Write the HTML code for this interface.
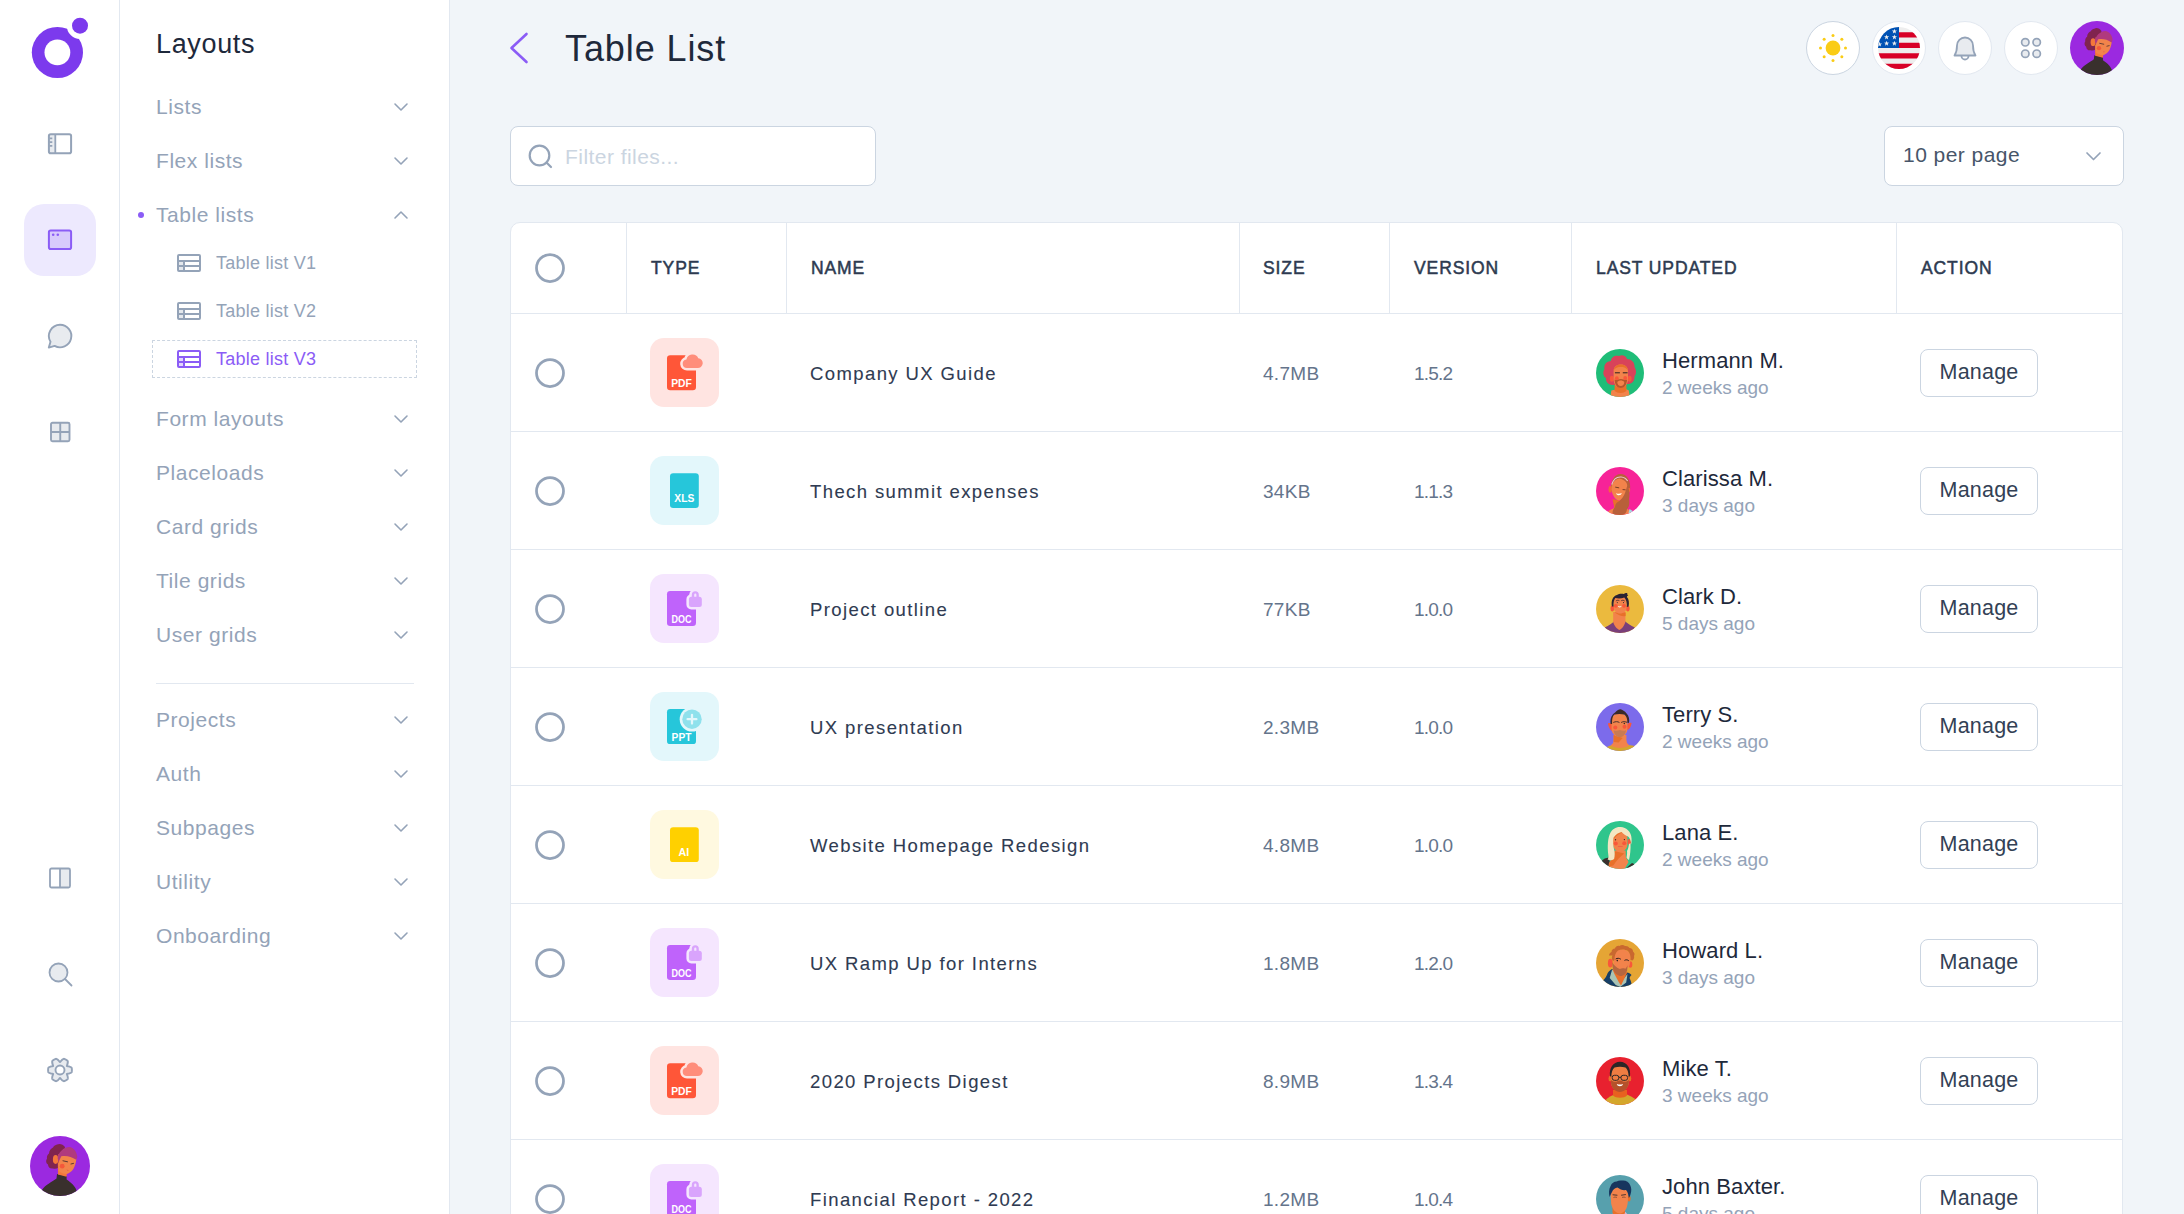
<!DOCTYPE html><html lang="en"><head><meta charset="utf-8"><title>Table List</title><style>
*{box-sizing:border-box;margin:0;padding:0}
html,body{width:2184px;height:1214px;overflow:hidden;background:#f1f5f9;font-family:"Liberation Sans",sans-serif;}
body{position:relative}
.abs{position:absolute}
#rail{position:absolute;left:0;top:0;width:120px;height:1214px;background:#fff;border-right:1px solid #e2e8f0}
#sub{position:absolute;left:120px;top:0;width:330px;height:1214px;background:#fff;border-right:1px solid #e2e8f0}
.t{position:absolute;white-space:nowrap;line-height:1}
.nav{color:#94a3b8;font-size:21px;letter-spacing:.55px}
.subnav{color:#94a3b8;font-size:18px;letter-spacing:.25px}
.chev{position:absolute;left:394px;width:14px;height:8px}
svg{display:block;overflow:visible}
.circ{position:absolute;width:54px;height:54px;border-radius:50%;background:#fff;border:1px solid #e2e8f0}
.row{position:absolute;left:0;width:1611px;height:118px;border-top:1px solid #e2e8f0}
.chk{position:absolute;left:24px;width:30px;height:30px}
.ibox{position:absolute;left:139px;top:24px;width:69px;height:69px;border-radius:14px}
.nm{color:#2f3b52;-webkit-text-stroke:.1px #2f3b52;font-size:18.5px;left:299px;top:51px;letter-spacing:1.4px}
.sz{color:#64748b;font-size:19px;top:50px;letter-spacing:.3px}
.un{color:#1e293b;font-size:22px;left:1151px;top:36px;letter-spacing:.1px}
.ut{color:#94a3b8;font-size:19px;left:1151px;top:64px}
.btn{position:absolute;left:1409px;top:35px;width:118px;height:48px;border:1px solid #cbd5e1;border-radius:8px;background:#fff;color:#334155;font-size:21.5px;letter-spacing:.2px;text-align:center;line-height:45px}
.av{position:absolute;left:1085px;top:35px;width:48px;height:48px;border-radius:50%;overflow:hidden}
.th{position:absolute;top:37px;color:#2d3a50;-webkit-text-stroke:.5px #2d3a50;font-size:17.5px;letter-spacing:.9px;white-space:nowrap;line-height:1}
.vs{position:absolute;top:0;width:1px;height:90px;background:#e2e8f0}
</style></head><body>
<div id="rail">
<svg class="abs" style="left:24px;top:12px" width="72" height="72" viewBox="0 0 72 72">
<defs><mask id="lm"><rect width="72" height="72" fill="#fff"/><circle cx="33.4" cy="40.4" r="12.9" fill="#000"/><circle cx="56" cy="13.7" r="13.2" fill="#000"/></mask></defs>
<circle cx="33.4" cy="40.5" r="25.6" fill="#7c3aed" mask="url(#lm)"/><circle cx="56" cy="13.7" r="8" fill="#7c3aed"/></svg>
<div class="abs" style="left:24px;top:204px;width:72px;height:72px;border-radius:20px;background:#ede9fe"></div>
<svg class="abs" style="left:48px;top:133px" width="24" height="22" viewBox="0 0 24 22"><rect x="1" y="1.300" width="6.300" height="18.900" fill="#94a3b8" opacity=".22"/><rect x="0.900" y="1.300" width="22.200" height="18.900" rx="1.800" fill="none" stroke="#94a3b8" stroke-width="2"/><path d="M7.300 1.300V20.200M1.500 5.400H4.300M1.500 9.100H4.300M1.500 12.800H4.300" stroke="#94a3b8" stroke-width="1.800" fill="none"/></svg>
<svg class="abs" style="left:48px;top:229px" width="24" height="22" viewBox="0 0 24 22"><rect x="0.900" y="1.500" width="22.200" height="18.500" rx="1.800" fill="#8b5cf6" fill-opacity=".22" stroke="#8b5cf6" stroke-width="2"/><circle cx="5.200" cy="5.800" r="1.300" fill="#8b5cf6"/><circle cx="9.800" cy="5.800" r="1.300" fill="#8b5cf6"/></svg>
<svg class="abs" style="left:47px;top:323px" width="26" height="26" viewBox="0 0 26 26"><path d="M13 1.700a11.300 11.300 0 1 1-5.400 21.200L1.800 24.600l1.700-5.800A11.300 11.300 0 0 1 13 1.700z" fill="#94a3b8" fill-opacity=".22" stroke="#94a3b8" stroke-width="1.900" stroke-linejoin="round"/></svg>
<svg class="abs" style="left:49px;top:421px" width="22" height="22" viewBox="0 0 22 22"><rect x="2" y="1.800" width="18.500" height="18.500" rx="1.500" fill="#94a3b8" fill-opacity=".22" stroke="#94a3b8" stroke-width="1.900"/><path d="M11.250 1.800V20.300M2 11.050H20.500" stroke="#94a3b8" stroke-width="1.900"/></svg>
<svg class="abs" style="left:49px;top:867px" width="22" height="22" viewBox="0 0 22 22"><rect x="11" y="1.5" width="10" height="19" fill="#94a3b8" opacity=".22"/><rect x="1" y="1.5" width="20" height="19" rx="1.5" fill="none" stroke="#94a3b8" stroke-width="1.8"/><path d="M11 1.5V20.5" stroke="#94a3b8" stroke-width="1.8"/></svg>
<svg class="abs" style="left:47px;top:961px" width="26" height="26" viewBox="0 0 26 26"><circle cx="11.5" cy="11.5" r="9" fill="#94a3b8" fill-opacity=".22" stroke="#94a3b8" stroke-width="1.8"/><path d="M18 18L24.5 24.5" stroke="#94a3b8" stroke-width="1.8" stroke-linecap="round"/></svg>
<svg class="abs" style="left:46px;top:1056px" width="28" height="28" viewBox="0 0 28 28"><polygon points="14.00,6.10 14.14,5.98 14.29,5.81 14.44,5.62 14.60,5.42 14.77,5.22 14.94,5.01 15.13,4.80 15.32,4.59 15.52,4.39 15.73,4.19 15.95,3.99 16.17,3.80 16.40,3.62 16.63,3.46 16.87,3.30 17.11,3.16 17.35,3.03 17.60,2.92 17.85,2.82 18.07,2.82 18.26,2.89 18.46,2.97 18.65,3.05 18.84,3.13 19.03,3.21 19.22,3.30 19.40,3.40 19.59,3.49 19.77,3.59 19.95,3.69 20.13,3.80 20.31,3.91 20.48,4.02 20.65,4.13 20.83,4.25 20.99,4.37 21.16,4.50 21.33,4.62 21.49,4.75 21.65,4.88 21.76,5.08 21.80,5.34 21.82,5.61 21.83,5.89 21.83,6.17 21.82,6.45 21.79,6.74 21.75,7.02 21.70,7.31 21.63,7.59 21.56,7.87 21.49,8.15 21.40,8.42 21.31,8.69 21.22,8.94 21.13,9.19 21.04,9.43 20.95,9.66 20.88,9.87 20.84,10.05 21.02,10.11 21.24,10.15 21.47,10.19 21.73,10.23 21.99,10.28 22.26,10.32 22.53,10.38 22.81,10.44 23.09,10.51 23.37,10.59 23.64,10.68 23.91,10.78 24.18,10.89 24.44,11.01 24.70,11.13 24.94,11.27 25.18,11.42 25.40,11.58 25.61,11.74 25.72,11.93 25.75,12.14 25.78,12.34 25.81,12.55 25.83,12.76 25.85,12.96 25.87,13.17 25.88,13.38 25.89,13.58 25.90,13.79 25.90,14.00 25.90,14.21 25.89,14.42 25.88,14.62 25.87,14.83 25.85,15.04 25.83,15.24 25.81,15.45 25.78,15.66 25.75,15.86 25.72,16.07 25.61,16.26 25.40,16.42 25.18,16.58 24.94,16.73 24.70,16.87 24.44,16.99 24.18,17.11 23.91,17.22 23.64,17.32 23.37,17.41 23.09,17.49 22.81,17.56 22.53,17.62 22.26,17.68 21.99,17.72 21.73,17.77 21.47,17.81 21.24,17.85 21.02,17.89 20.84,17.95 20.88,18.13 20.95,18.34 21.04,18.57 21.13,18.81 21.22,19.06 21.31,19.31 21.40,19.58 21.49,19.85 21.56,20.13 21.63,20.41 21.70,20.69 21.75,20.98 21.79,21.26 21.82,21.55 21.83,21.83 21.83,22.11 21.82,22.39 21.80,22.66 21.76,22.92 21.65,23.12 21.49,23.25 21.33,23.38 21.16,23.50 20.99,23.63 20.83,23.75 20.65,23.87 20.48,23.98 20.31,24.09 20.13,24.20 19.95,24.31 19.77,24.41 19.59,24.51 19.40,24.60 19.22,24.70 19.03,24.79 18.84,24.87 18.65,24.95 18.46,25.03 18.26,25.11 18.07,25.18 17.85,25.18 17.60,25.08 17.35,24.97 17.11,24.84 16.87,24.70 16.63,24.54 16.40,24.38 16.17,24.20 15.95,24.01 15.73,23.81 15.52,23.61 15.32,23.41 15.13,23.20 14.94,22.99 14.77,22.78 14.60,22.58 14.44,22.38 14.29,22.19 14.14,22.02 14.00,21.90 13.86,22.02 13.71,22.19 13.56,22.38 13.40,22.58 13.23,22.78 13.06,22.99 12.87,23.20 12.68,23.41 12.48,23.61 12.27,23.81 12.05,24.01 11.83,24.20 11.60,24.38 11.37,24.54 11.13,24.70 10.89,24.84 10.65,24.97 10.40,25.08 10.15,25.18 9.93,25.18 9.74,25.11 9.54,25.03 9.35,24.95 9.16,24.87 8.97,24.79 8.78,24.70 8.60,24.60 8.41,24.51 8.23,24.41 8.05,24.31 7.87,24.20 7.69,24.09 7.52,23.98 7.35,23.87 7.17,23.75 7.01,23.63 6.84,23.50 6.67,23.38 6.51,23.25 6.35,23.12 6.24,22.92 6.20,22.66 6.18,22.39 6.17,22.11 6.17,21.83 6.18,21.55 6.21,21.26 6.25,20.98 6.30,20.69 6.37,20.41 6.44,20.13 6.51,19.85 6.60,19.58 6.69,19.31 6.78,19.06 6.87,18.81 6.96,18.57 7.05,18.34 7.12,18.13 7.16,17.95 6.98,17.89 6.76,17.85 6.53,17.81 6.27,17.77 6.01,17.72 5.74,17.68 5.47,17.62 5.19,17.56 4.91,17.49 4.63,17.41 4.36,17.32 4.09,17.22 3.82,17.11 3.56,16.99 3.30,16.87 3.06,16.73 2.82,16.58 2.60,16.42 2.39,16.26 2.28,16.07 2.25,15.86 2.22,15.66 2.19,15.45 2.17,15.24 2.15,15.04 2.13,14.83 2.12,14.62 2.11,14.42 2.10,14.21 2.10,14.00 2.10,13.79 2.11,13.58 2.12,13.38 2.13,13.17 2.15,12.96 2.17,12.76 2.19,12.55 2.22,12.34 2.25,12.14 2.28,11.93 2.39,11.74 2.60,11.58 2.82,11.42 3.06,11.27 3.30,11.13 3.56,11.01 3.82,10.89 4.09,10.78 4.36,10.68 4.63,10.59 4.91,10.51 5.19,10.44 5.47,10.38 5.74,10.32 6.01,10.28 6.27,10.23 6.53,10.19 6.76,10.15 6.98,10.11 7.16,10.05 7.12,9.87 7.05,9.66 6.96,9.43 6.87,9.19 6.78,8.94 6.69,8.69 6.60,8.42 6.51,8.15 6.44,7.87 6.37,7.59 6.30,7.31 6.25,7.02 6.21,6.74 6.18,6.45 6.17,6.17 6.17,5.89 6.18,5.61 6.20,5.34 6.24,5.08 6.35,4.88 6.51,4.75 6.67,4.62 6.84,4.50 7.01,4.37 7.17,4.25 7.35,4.13 7.52,4.02 7.69,3.91 7.87,3.80 8.05,3.69 8.23,3.59 8.41,3.49 8.60,3.40 8.78,3.30 8.97,3.21 9.16,3.13 9.35,3.05 9.54,2.97 9.74,2.89 9.93,2.82 10.15,2.82 10.40,2.92 10.65,3.03 10.89,3.16 11.13,3.30 11.37,3.46 11.60,3.62 11.83,3.80 12.05,3.99 12.27,4.19 12.48,4.39 12.68,4.59 12.87,4.80 13.06,5.01 13.23,5.22 13.40,5.42 13.56,5.62 13.71,5.81 13.86,5.98" fill="#94a3b8" fill-opacity=".22" stroke="#94a3b8" stroke-width="1.9" stroke-linejoin="round"/><circle cx="14" cy="14" r="4.500" fill="#fff" stroke="#94a3b8" stroke-width="1.9"/></svg>
<div class="abs" id="me1" style="left:30px;top:1136px;width:60px;height:60px;border-radius:50%;overflow:hidden"><svg width="100%" height="100%" viewBox="0 0 60 60"><rect width="60" height="60" fill="#9b29e0"/><path d="M27 8.500c3-1.500 6 0 8 2.500l-3 18c-3 3-6 4.500-9 3.500-3 .5-5-1.500-5-4-2-1-2.500-4-1-6-.5-2 .5-4 2-5 0-3 2-5 4-6 1-2 2.500-2.500 4-3z" fill="#80244f"/><path d="M12 54c3-5 10-8 14.500-11.500l.5-4.500 9.600 2v3.500c4 2.500 8.500 6.500 10 11l-3 5.500H14z" fill="#39302d"/><path d="M27.800 26l.2 12.600 8.600 2.100.4-5z" fill="#f4773a"/><path d="M28.500 18l17.800 2.500v3c-.5 4-1.500 7-3 9.500-1.500 2.500-4 4-6.500 5-3.500 0-6.500-1.500-8.300-3z" fill="#f2844b"/><ellipse cx="25.600" cy="23.500" rx="2.700" ry="4.400" fill="#f4773a"/><path d="M27.600 22c1-6 6-10.500 11.500-11 4.500.5 8 5 8.200 10l-1 2.800c-5-3.500-10-4.500-15-3.600l-2.700 5.800z" fill="#b03a7e"/><circle cx="32.200" cy="30.200" r="2.400" fill="#f4583a"/><path d="M33 24.800l4.500 1M41 28l2.500-.6" stroke="#4a3030" stroke-width=".9" stroke-linecap="round" fill="none"/><path d="M36.500 33.600l2.500.6-1.500.9z" fill="#e8604a"/></svg></div>
</div>
<div id="sub">
<div class="t" style="left:36px;top:31px;font-size:27px;letter-spacing:.65px;color:#1e293b">Layouts</div>
<div class="t nav" style="left:36px;top:96px">Lists</div>
<svg class="chev" style="left:274px;top:103px" viewBox="0 0 14 8"><path d="M1 1 L7 7 L13 1" fill="none" stroke="#94a3b8" stroke-width="1.6" stroke-linecap="round" stroke-linejoin="round"/></svg>
<div class="t nav" style="left:36px;top:150px">Flex lists</div>
<svg class="chev" style="left:274px;top:157px" viewBox="0 0 14 8"><path d="M1 1 L7 7 L13 1" fill="none" stroke="#94a3b8" stroke-width="1.6" stroke-linecap="round" stroke-linejoin="round"/></svg>
<div class="t nav" style="left:36px;top:204px">Table lists</div>
<svg class="chev" style="left:274px;top:211px" viewBox="0 0 14 8"><path d="M1 7 L7 1 L13 7" fill="none" stroke="#94a3b8" stroke-width="1.6" stroke-linecap="round" stroke-linejoin="round"/></svg>
<div class="t nav" style="left:36px;top:408px">Form layouts</div>
<svg class="chev" style="left:274px;top:415px" viewBox="0 0 14 8"><path d="M1 1 L7 7 L13 1" fill="none" stroke="#94a3b8" stroke-width="1.6" stroke-linecap="round" stroke-linejoin="round"/></svg>
<div class="t nav" style="left:36px;top:462px">Placeloads</div>
<svg class="chev" style="left:274px;top:469px" viewBox="0 0 14 8"><path d="M1 1 L7 7 L13 1" fill="none" stroke="#94a3b8" stroke-width="1.6" stroke-linecap="round" stroke-linejoin="round"/></svg>
<div class="t nav" style="left:36px;top:516px">Card grids</div>
<svg class="chev" style="left:274px;top:523px" viewBox="0 0 14 8"><path d="M1 1 L7 7 L13 1" fill="none" stroke="#94a3b8" stroke-width="1.6" stroke-linecap="round" stroke-linejoin="round"/></svg>
<div class="t nav" style="left:36px;top:570px">Tile grids</div>
<svg class="chev" style="left:274px;top:577px" viewBox="0 0 14 8"><path d="M1 1 L7 7 L13 1" fill="none" stroke="#94a3b8" stroke-width="1.6" stroke-linecap="round" stroke-linejoin="round"/></svg>
<div class="t nav" style="left:36px;top:624px">User grids</div>
<svg class="chev" style="left:274px;top:631px" viewBox="0 0 14 8"><path d="M1 1 L7 7 L13 1" fill="none" stroke="#94a3b8" stroke-width="1.6" stroke-linecap="round" stroke-linejoin="round"/></svg>
<div class="t nav" style="left:36px;top:709px">Projects</div>
<svg class="chev" style="left:274px;top:716px" viewBox="0 0 14 8"><path d="M1 1 L7 7 L13 1" fill="none" stroke="#94a3b8" stroke-width="1.6" stroke-linecap="round" stroke-linejoin="round"/></svg>
<div class="t nav" style="left:36px;top:763px">Auth</div>
<svg class="chev" style="left:274px;top:770px" viewBox="0 0 14 8"><path d="M1 1 L7 7 L13 1" fill="none" stroke="#94a3b8" stroke-width="1.6" stroke-linecap="round" stroke-linejoin="round"/></svg>
<div class="t nav" style="left:36px;top:817px">Subpages</div>
<svg class="chev" style="left:274px;top:824px" viewBox="0 0 14 8"><path d="M1 1 L7 7 L13 1" fill="none" stroke="#94a3b8" stroke-width="1.6" stroke-linecap="round" stroke-linejoin="round"/></svg>
<div class="t nav" style="left:36px;top:871px">Utility</div>
<svg class="chev" style="left:274px;top:878px" viewBox="0 0 14 8"><path d="M1 1 L7 7 L13 1" fill="none" stroke="#94a3b8" stroke-width="1.6" stroke-linecap="round" stroke-linejoin="round"/></svg>
<div class="t nav" style="left:36px;top:925px">Onboarding</div>
<svg class="chev" style="left:274px;top:932px" viewBox="0 0 14 8"><path d="M1 1 L7 7 L13 1" fill="none" stroke="#94a3b8" stroke-width="1.6" stroke-linecap="round" stroke-linejoin="round"/></svg>
<div class="abs" style="left:18px;top:212px;width:6px;height:6px;border-radius:50%;background:#8b5cf6"></div>
<svg class="abs" style="left:57px;top:254px" width="24" height="18" viewBox="0 0 24 18"><rect x="1" y="7" width="6" height="10" fill="#94a3b8" opacity=".25"/><rect x="1" y="1" width="22" height="16" rx="1" fill="none" stroke="#94a3b8" stroke-width="2"/><path d="M1 7H23M1 12H23M7 7V17" stroke="#94a3b8" stroke-width="2" fill="none"/></svg>
<div class="t subnav" style="left:96px;top:254px;color:#94a3b8">Table list V1</div>
<svg class="abs" style="left:57px;top:302px" width="24" height="18" viewBox="0 0 24 18"><rect x="1" y="7" width="6" height="10" fill="#94a3b8" opacity=".25"/><rect x="1" y="1" width="22" height="16" rx="1" fill="none" stroke="#94a3b8" stroke-width="2"/><path d="M1 7H23M1 12H23M7 7V17" stroke="#94a3b8" stroke-width="2" fill="none"/></svg>
<div class="t subnav" style="left:96px;top:302px;color:#94a3b8">Table list V2</div>
<div class="abs" style="left:32px;top:340px;width:265px;height:38px;border:1px dashed #cbd5e1;border-radius:1px"></div>
<svg class="abs" style="left:57px;top:350px" width="24" height="18" viewBox="0 0 24 18"><rect x="1" y="7" width="6" height="10" fill="#8b5cf6" opacity=".25"/><rect x="1" y="1" width="22" height="16" rx="1" fill="none" stroke="#8b5cf6" stroke-width="2"/><path d="M1 7H23M1 12H23M7 7V17" stroke="#8b5cf6" stroke-width="2" fill="none"/></svg>
<div class="t subnav" style="left:96px;top:350px;color:#8b5cf6">Table list V3</div>
<div class="abs" style="left:36px;top:683px;width:258px;height:1px;background:#e2e8f0"></div>
</div>
<svg class="abs" style="left:509px;top:32px" width="20" height="32" viewBox="0 0 20 32"><path d="M17.500 2L2.500 16L17.500 30" fill="none" stroke="#8b5cf6" stroke-width="2.6" stroke-linecap="round" stroke-linejoin="round"/></svg>
<div class="t" style="left:565px;top:31px;font-size:36px;letter-spacing:.9px;color:#1e293b">Table List</div>
<div class="circ" style="left:1806px;top:21px;border-color:#cbd5e1"></div>
<div class="circ" style="left:1872px;top:21px;border-color:#e2e8f0"></div>
<div class="circ" style="left:1938px;top:21px;border-color:#e2e8f0"></div>
<div class="circ" style="left:2004px;top:21px;border-color:#e2e8f0"></div>
<svg class="abs" style="left:1813px;top:28px" width="40" height="40" viewBox="0 0 40 40" fill="#facc15"><circle cx="20" cy="20" r="7.400"/><circle cx="32.50" cy="20.00" r="1.500"/><circle cx="28.84" cy="28.84" r="1.500"/><circle cx="20.00" cy="32.50" r="1.500"/><circle cx="11.16" cy="28.84" r="1.500"/><circle cx="7.50" cy="20.00" r="1.500"/><circle cx="11.16" cy="11.16" r="1.500"/><circle cx="20.00" cy="7.50" r="1.500"/><circle cx="28.84" cy="11.16" r="1.500"/></svg>
<svg class="abs" style="left:1878px;top:27px" width="42" height="42" viewBox="0 0 42 42"><defs><clipPath id="fc"><circle cx="21" cy="21" r="21"/></clipPath></defs><g clip-path="url(#fc)"><rect width="42" height="42" fill="#eeeeee"/><g fill="#d80027"><rect x="21" y="5.250" width="21" height="5.250"/><rect x="21" y="15.750" width="21" height="5.250"/><rect x="0" y="26.250" width="42" height="5.250"/><rect x="0" y="36.750" width="42" height="5.250"/></g><rect width="21" height="21" fill="#0052b4"/><g fill="#eee"><polygon points="16.40,1.70 17.05,3.51 18.97,3.57 17.45,4.74 17.99,6.58 16.40,5.50 14.81,6.58 15.35,4.74 13.83,3.57 15.75,3.51"/><polygon points="8.60,7.50 9.25,9.31 11.17,9.37 9.65,10.54 10.19,12.38 8.60,11.30 7.01,12.38 7.55,10.54 6.03,9.37 7.95,9.31"/><polygon points="16.40,7.50 17.05,9.31 18.97,9.37 17.45,10.54 17.99,12.38 16.40,11.30 14.81,12.38 15.35,10.54 13.83,9.37 15.75,9.31"/><polygon points="8.60,13.80 9.25,15.61 11.17,15.67 9.65,16.84 10.19,18.68 8.60,17.60 7.01,18.68 7.55,16.84 6.03,15.67 7.95,15.61"/><polygon points="16.40,13.80 17.05,15.61 18.97,15.67 17.45,16.84 17.99,18.68 16.40,17.60 14.81,18.68 15.35,16.84 13.83,15.67 15.75,15.61"/><polygon points="1.50,14.60 2.15,16.41 4.07,16.47 2.55,17.64 3.09,19.48 1.50,18.40 -0.09,19.48 0.45,17.64 -1.07,16.47 0.85,16.41"/></g></g></svg>
<svg class="abs" style="left:1952px;top:34px" width="26" height="28" viewBox="0 0 26 28"><path d="M2.500 21.500c2-3 2.500-6 2.500-10a8 8 0 0 1 16 0c0 4 .5 7 2.500 10z" fill="#94a3b8" fill-opacity=".22" stroke="#94a3b8" stroke-width="1.800" stroke-linejoin="round"/><path d="M9.500 22a3.500 3.500 0 0 0 7 0" fill="none" stroke="#94a3b8" stroke-width="1.800"/></svg>
<svg class="abs" style="left:2019px;top:36px" width="24" height="24" viewBox="0 0 24 24" fill="#94a3b8" fill-opacity=".22" stroke="#94a3b8" stroke-width="1.700"><circle cx="6.300" cy="6.300" r="3.700"/><circle cx="17.700" cy="6.300" r="3.700"/><circle cx="6.300" cy="17.700" r="3.700"/><circle cx="17.700" cy="17.700" r="3.700"/></svg>
<div class="abs" id="me2" style="left:2070px;top:21px;width:54px;height:54px;border-radius:50%;overflow:hidden"><svg width="100%" height="100%" viewBox="0 0 60 60"><rect width="60" height="60" fill="#9b29e0"/><path d="M27 8.500c3-1.500 6 0 8 2.500l-3 18c-3 3-6 4.500-9 3.500-3 .5-5-1.500-5-4-2-1-2.500-4-1-6-.5-2 .5-4 2-5 0-3 2-5 4-6 1-2 2.500-2.500 4-3z" fill="#80244f"/><path d="M12 54c3-5 10-8 14.500-11.500l.5-4.500 9.600 2v3.500c4 2.500 8.500 6.500 10 11l-3 5.500H14z" fill="#39302d"/><path d="M27.800 26l.2 12.600 8.600 2.100.4-5z" fill="#f4773a"/><path d="M28.500 18l17.800 2.500v3c-.5 4-1.500 7-3 9.500-1.500 2.500-4 4-6.500 5-3.500 0-6.500-1.500-8.300-3z" fill="#f2844b"/><ellipse cx="25.600" cy="23.500" rx="2.700" ry="4.400" fill="#f4773a"/><path d="M27.600 22c1-6 6-10.500 11.500-11 4.500.5 8 5 8.200 10l-1 2.800c-5-3.500-10-4.500-15-3.600l-2.700 5.800z" fill="#b03a7e"/><circle cx="32.200" cy="30.200" r="2.400" fill="#f4583a"/><path d="M33 24.800l4.500 1M41 28l2.500-.6" stroke="#4a3030" stroke-width=".9" stroke-linecap="round" fill="none"/><path d="M36.500 33.600l2.500.6-1.500.9z" fill="#e8604a"/></svg></div>
<div class="abs" style="left:510px;top:126px;width:366px;height:60px;background:#fff;border:1px solid #cbd5e1;border-radius:8px"></div>
<svg class="abs" style="left:527px;top:143px" width="26" height="26" viewBox="0 0 26 26"><circle cx="12.500" cy="12.500" r="9.800" fill="none" stroke="#94a3b8" stroke-width="2.2"/><path d="M19.500 19.500L24 24" stroke="#94a3b8" stroke-width="2.2" stroke-linecap="round"/></svg>
<div class="t" style="left:565px;top:146px;font-size:21px;letter-spacing:.45px;color:#cbd5e1">Filter files...</div>
<div class="abs" style="left:1884px;top:126px;width:240px;height:60px;background:#fff;border:1px solid #cbd5e1;border-radius:8px"></div>
<div class="t" style="left:1903px;top:144px;font-size:21px;letter-spacing:.45px;color:#475569">10 per page</div>
<svg class="abs" style="left:2086px;top:152px" width="15" height="9" viewBox="0 0 15 9"><path d="M1 1L7.500 7.500L14 1" fill="none" stroke="#94a3b8" stroke-width="1.700" stroke-linecap="round" stroke-linejoin="round"/></svg>
<div class="abs" style="left:510px;top:222px;width:1613px;height:1000px;background:#fff;border:1px solid #e2e8f0;border-radius:10px 10px 0 0;overflow:hidden">
<svg class="chk" style="top:30px" viewBox="0 0 30 30"><circle cx="15" cy="15" r="13.500" fill="#fff" stroke="#94a3b8" stroke-width="2.750"/></svg>
<div class="vs" style="left:115px"></div>
<div class="vs" style="left:275px"></div>
<div class="vs" style="left:728px"></div>
<div class="vs" style="left:878px"></div>
<div class="vs" style="left:1060px"></div>
<div class="vs" style="left:1385px"></div>
<div class="th" style="left:140px">TYPE</div>
<div class="th" style="left:300px">NAME</div>
<div class="th" style="left:752px">SIZE</div>
<div class="th" style="left:903px">VERSION</div>
<div class="th" style="left:1085px">LAST UPDATED</div>
<div class="th" style="left:1410px">ACTION</div>
<div class="row" style="top:90px">
<svg class="chk" style="top:44px" viewBox="0 0 30 30"><circle cx="15" cy="15" r="13.500" fill="#fff" stroke="#94a3b8" stroke-width="2.750"/></svg>
<div class="ibox" style="background:#ffe4e1"><svg width="69" height="69" viewBox="0 0 69 69"><rect x="17" y="17.3" width="29" height="35" rx="3.2" fill="#ff5638"/><path d="M37 30a4.300 4.300 0 0 1-.6-8.560 6.300 6.300 0 0 1 11.900-1.300A4.800 4.800 0 0 1 47.300 30z" fill="#ff8d7b" stroke="#ffe4e1" stroke-width="5" paint-order="stroke" stroke-linejoin="round"/><text x="21.2" y="48.6" font-family="Liberation Sans, sans-serif" font-weight="bold" font-size="11.5" textLength="20.6" lengthAdjust="spacingAndGlyphs" fill="#fff">PDF</text></svg></div>
<div class="t nm">Company UX Guide</div>
<div class="t sz" style="left:752px">4.7MB</div>
<div class="t sz" style="left:903px;letter-spacing:-.8px">1.5.2</div>
<div class="av"><svg width="100%" height="100%" viewBox="0 0 48 48"><rect width="48" height="48" fill="#1fbd78"/><path d="M15 12c0-4 4-6 8-5 3-1.500 7-.5 8 3 4 0 8 3 7.500 8 2 3 2 7 0 9 .5 4-2 8-6 8l-16 1c-4 0-7-3-6.500-7-3-2-3.500-6-1.500-9-1-4 2-8 6.500-8z" fill="#d8435a"/><path d="M15.300 41.600c3-.5 5-1 6-2h8c1 1 3 1.500 3.500 2l1 6.400H14.500z" fill="#f2834b"/><path d="M18.600 36h11.800v6c-3 2.500-9 2.500-11.800 0z" fill="#e8702a"/><ellipse cx="15.800" cy="29.700" rx="2" ry="3" fill="#f9573a"/><ellipse cx="33.600" cy="29.700" rx="2" ry="3" fill="#f9573a"/><path d="M17.600 22c0-4 3-6.500 7.200-6.500S32 18 32 22v8c0 5-3 9-7.200 9s-7.200-4-7.200-9z" fill="#f2834b"/><path d="M17.800 21c.5-3.500 3.500-5.500 7-5.500s6.500 2 7 5.500c-2-2.500-4.500-3-7-3s-5 .5-7 3z" fill="#e8702a"/><path d="M18.500 30.500c1.500.5 3.500 0 6.300-.6 2.800.6 4.800 1.100 6.300.6-.3 5-2.800 8.500-6.300 8.500s-6-3.500-6.300-8.500zm2.800 2.500c0 2.500 1.500 4 3.500 4s3.500-1.500 3.500-4c-1-1-2.200-1.500-3.500-1.500s-2.500.5-3.500 1.500z" fill="#b5562b" fill-rule="evenodd"/><circle cx="20.8" cy="29.2" r="1.9" fill="#f9573a"/><circle cx="29.2" cy="29" r="1.9" fill="#f9573a"/><path d="M19.300 23.800h4.200M27.200 23.800h4" stroke="#2b2020" stroke-width="1" stroke-linecap="round"/></svg></div>
<div class="t un">Hermann M.</div>
<div class="t ut">2 weeks ago</div>
<div class="btn">Manage</div>
</div>
<div class="row" style="top:208px">
<svg class="chk" style="top:44px" viewBox="0 0 30 30"><circle cx="15" cy="15" r="13.500" fill="#fff" stroke="#94a3b8" stroke-width="2.750"/></svg>
<div class="ibox" style="background:#e3f7fb"><svg width="69" height="69" viewBox="0 0 69 69"><rect x="20" y="17.2" width="28.8" height="34.8" rx="3.2" fill="#26c6da"/><text x="24.3" y="46.1" font-family="Liberation Sans, sans-serif" font-weight="bold" font-size="11.5" textLength="20" lengthAdjust="spacingAndGlyphs" fill="#fff">XLS</text></svg></div>
<div class="t nm">Thech summit expenses</div>
<div class="t sz" style="left:752px">34KB</div>
<div class="t sz" style="left:903px;letter-spacing:-.8px">1.1.3</div>
<div class="av"><svg width="100%" height="100%" viewBox="0 0 48 48"><rect width="48" height="48" fill="#f72398"/><path d="M15 24c-1-9 3-17 9.500-17 7 0 10.500 7 9.500 16l-3 8z" fill="#b8603a"/><path d="M11 48c.5-4 3-5.500 6.500-6.500l2-4 8 1 1.500 3c3 .5 6 2 6.500 6.500z" fill="#f2834b"/><path d="M33.500 42l3.300 2-1.300 3-3-1z" fill="#a9d4e0"/><path d="M16.500 32l8 2v7l-6 .5z" fill="#e8702a"/><ellipse cx="14.200" cy="22.300" rx="1.700" ry="3.400" fill="#f4683a"/><ellipse cx="33" cy="23" rx="1.200" ry="2.200" fill="#f4683a"/><path d="M15.600 17c1-4 4.500-6.500 8.500-6 4.500.5 7.500 4.500 7.300 9.500-.2 6-3.500 11.500-8 13-4-.5-7-5-7.800-10.500z" fill="#f2834b"/><path d="M15.400 19c.5-6 4-9.500 9-9.500 4 0 7.500 3 8 8.500-2.500-4-5.500-6-9-6.500-3.500.5-6.500 3-8 7.500z" fill="#b8603a"/><path d="M15.800 17.500c1.500-5 5-8 9.500-7.500 3 .3 5 2 6.300 4" fill="none" stroke="#edc1d3" stroke-width="1.100"/><path d="M20 26.200c2 .8 4 .8 5.700-.1-.4 2.800-4.800 3-5.700.1z" fill="#fff"/><path d="M31.500 18c2 5 2.500 10 1.500 14 1 4 0 8-2 10 0 3-2 5-4 6h-10c-1-3 0-6 2-8 0-3 2-5 4.500-6 2-2 4.500-5 5.500-8z" fill="#b8603a"/><path d="M19.600 20.200l3.200.6M27 22.600l2.200.2" stroke="#6a3520" stroke-width=".9" stroke-linecap="round"/></svg></div>
<div class="t un">Clarissa M.</div>
<div class="t ut">3 days ago</div>
<div class="btn">Manage</div>
</div>
<div class="row" style="top:326px">
<svg class="chk" style="top:44px" viewBox="0 0 30 30"><circle cx="15" cy="15" r="13.500" fill="#fff" stroke="#94a3b8" stroke-width="2.750"/></svg>
<div class="ibox" style="background:#f5e6fe"><svg width="69" height="69" viewBox="0 0 69 69"><rect x="17" y="17" width="29" height="35" rx="3.2" fill="#bf63fb"/><g stroke="#f5e6fe" stroke-width="5" stroke-linejoin="round"><path d="M41.400 22.700h7.900a2.500 2.500 0 0 1 2.500 2.500v5.300a2.500 2.500 0 0 1-2.500 2.500h-7.900a2.500 2.500 0 0 1-2.500-2.500v-5.300a2.500 2.500 0 0 1 2.500-2.500z" fill="#f5e6fe"/><path d="M43 23v-2.300a2.300 2.300 0 0 1 4.600 0V23" fill="none" stroke-width="7.400"/></g><path d="M41.400 22.700h7.900a2.500 2.500 0 0 1 2.500 2.500v5.300a2.500 2.500 0 0 1-2.500 2.500h-7.900a2.500 2.500 0 0 1-2.500-2.500v-5.300a2.500 2.500 0 0 1 2.500-2.500z" fill="#d9a4fc"/><path d="M43 23v-2.300a2.300 2.300 0 0 1 4.600 0V23" fill="none" stroke="#d9a4fc" stroke-width="2.400"/><text x="21.6" y="48.6" font-family="Liberation Sans, sans-serif" font-weight="bold" font-size="11.5" textLength="20" lengthAdjust="spacingAndGlyphs" fill="#fff">DOC</text></svg></div>
<div class="t nm">Project outline</div>
<div class="t sz" style="left:752px">77KB</div>
<div class="t sz" style="left:903px;letter-spacing:-.8px">1.0.0</div>
<div class="av"><svg width="100%" height="100%" viewBox="0 0 48 48"><rect width="48" height="48" fill="#ebba3e"/><path d="M8.700 42.500c4-2 8-4.500 10-6.500h10c2 2 6 4.500 10.200 6.500L36 48H12z" fill="#7a3f7a"/><path d="M17.200 27h12.200v10c-1 3.500-3.500 7-6 8-2.500-1-5.500-4.500-6.200-8z" fill="#f2834b"/><path d="M18.600 27.500h11v3.500c-3 .8-7-.5-11-3.500z" fill="#e8702a"/><ellipse cx="16.300" cy="23.500" rx="1.800" ry="2.900" fill="#f9573a"/><ellipse cx="31.800" cy="23.500" rx="1.800" ry="2.900" fill="#f9573a"/><path d="M17.800 16c0-3.500 3-5.500 6.400-5.500s6.300 2 6.300 5.500v7c0 3-3 5.500-6.300 5.500s-6.400-2.500-6.400-5.500z" fill="#f2834b"/><path d="M15.900 21.500c-1-6 1-10.500 5-11.500 2-1.500 5-1.500 7-1 1-1 2.500-1.200 3.500-.6-.3 1 .2 1.800 1 2.200-1 .3-1.500.8-1.500 1.500 2 2 2.500 6 1.700 9.400l-1.800.5c.3-4-.5-7.500-2.500-9.500-2.500 1-6 1.200-9 .5-1.500 2-2 5-1.700 8.500z" fill="#2b2233"/><circle cx="19.8" cy="20.8" r="1.9" fill="#f9573a"/><circle cx="28" cy="20.8" r="1.9" fill="#f9573a"/><path d="M21.800 21c1.200.5 2.600.5 3.800 0-.3 1.900-3.400 1.900-3.800 0z" fill="#fff"/><path d="M20.200 15.800c.8-.6 1.800-.7 2.800-.3M25.600 15.500c1-.4 2-.3 2.800.3" stroke="#3a2530" stroke-width=".8" stroke-linecap="round" fill="none"/><circle cx="21.300" cy="17.600" r=".55" fill="#3a2530"/><circle cx="27.500" cy="17.600" r=".55" fill="#3a2530"/></svg></div>
<div class="t un">Clark D.</div>
<div class="t ut">5 days ago</div>
<div class="btn">Manage</div>
</div>
<div class="row" style="top:444px">
<svg class="chk" style="top:44px" viewBox="0 0 30 30"><circle cx="15" cy="15" r="13.500" fill="#fff" stroke="#94a3b8" stroke-width="2.750"/></svg>
<div class="ibox" style="background:#e3f7fb"><svg width="69" height="69" viewBox="0 0 69 69"><rect x="17" y="17.1" width="29" height="35" rx="3.2" fill="#26c6da"/><circle cx="42" cy="27.200" r="12.300" fill="#e3f7fb"/><circle cx="42" cy="27.200" r="9.700" fill="#8fe1ec"/><path d="M42 22.800v8.800M37.600 27.200h8.800" stroke="#e3f7fb" stroke-width="2.300" stroke-linecap="round"/><text x="21.6" y="48.8" font-family="Liberation Sans, sans-serif" font-weight="bold" font-size="11.5" textLength="19.8" lengthAdjust="spacingAndGlyphs" fill="#fff">PPT</text></svg></div>
<div class="t nm">UX presentation</div>
<div class="t sz" style="left:752px">2.3MB</div>
<div class="t sz" style="left:903px;letter-spacing:-.8px">1.0.0</div>
<div class="av"><svg width="100%" height="100%" viewBox="0 0 48 48"><rect width="48" height="48" fill="#7c6beb"/><path d="M10.800 44c4-2 8-2.500 12.500-2.500s9 .5 15.700 1.500L36 48H12z" fill="#d4a72c"/><path d="M14.600 42.500c2-1.500 3-3 3-5l12.500-.5c.5 2.500 1.500 4 3.300 5.500-4 3-14 3.500-18.800 0z" fill="#f2834b"/><path d="M17.600 32h12.800v7h-12.800z" fill="#f2834b"/><path d="M17.600 32l9 3-4 4.500-5-.5z" fill="#e8702a"/><path d="M12 20.500c1.500-1 3.500-.5 4.500 1.500v6c-2-.5-4-3.500-4.500-7.500zM35.600 20c-1.500-.8-3.500-.3-4.500 1.500v5.500c2.500-.5 4-3.500 4.500-7z" fill="#f9573a"/><path d="M15.600 17c0-4 3.500-6.500 8-6.500s7.800 2.500 7.800 6.500v9c0 4-3.500 8-7.800 8s-8-4-8-8z" fill="#f2834b"/><path d="M14.600 21c-.8-6 1.500-9.500 4.500-11.500 1.500-2 3.500-3.300 5.300-3.300 2 .5 4.500 2 6 4 2.500 2.500 3.300 6 2.600 9.800l-1.600-.5c0-3.500-1-6.500-3-8-3-.8-7-.8-10 0-2 1.500-2.500 5-2.300 9.500z" fill="#3a2a2a"/><path d="M17.600 27.200c2.500 1.200 4.500.3 6.200-.1 2 .4 4.200 1.300 6.200.1-.5 4-3 7-6.200 7s-5.700-3-6.200-7z" fill="#c97b52"/><circle cx="19.3" cy="24.5" r="2" fill="#f9573a"/><circle cx="28.5" cy="23.8" r="2" fill="#f9573a"/><path d="M17.600 19.300c2-.9 4-.9 5.500 0M25.500 19.300c1.500-.9 3.500-.9 5.500 0" stroke="#3a2a2a" stroke-width=".9" fill="none" stroke-linecap="round"/><circle cx="28.300" cy="20.500" r=".7" fill="#2b2020"/></svg></div>
<div class="t un">Terry S.</div>
<div class="t ut">2 weeks ago</div>
<div class="btn">Manage</div>
</div>
<div class="row" style="top:562px">
<svg class="chk" style="top:44px" viewBox="0 0 30 30"><circle cx="15" cy="15" r="13.500" fill="#fff" stroke="#94a3b8" stroke-width="2.750"/></svg>
<div class="ibox" style="background:#fff9e0"><svg width="69" height="69" viewBox="0 0 69 69"><rect x="20" y="17.3" width="28.8" height="34.8" rx="3.2" fill="#ffd000"/><text x="28.6" y="46.3" font-family="Liberation Sans, sans-serif" font-weight="bold" font-size="11.5" textLength="10.7" lengthAdjust="spacingAndGlyphs" fill="#fff">AI</text></svg></div>
<div class="t nm">Website Homepage Redesign</div>
<div class="t sz" style="left:752px">4.8MB</div>
<div class="t sz" style="left:903px;letter-spacing:-.8px">1.0.0</div>
<div class="av"><svg width="100%" height="100%" viewBox="0 0 48 48"><rect width="48" height="48" fill="#2fc58c"/><path d="M5.400 40c2-2 4.500-3.200 7.200-3.500l2 8-3 3.500h-4zM42.500 48c-1-3-3.500-5-6.500-6l-7 6z" fill="#3a2f2d"/><path d="M12.600 44.500c0-3 2-6 5.500-8l.5-7h11l.3 7c1 1.500 2 3 2.600 4.500L28.500 48H13.500z" fill="#f2834b"/><path d="M18.300 30l10 2.500c-4 3-8 7-11 12l-4.500 1c0-3.500 2-7 5.500-9z" fill="#e8702a"/><ellipse cx="33.200" cy="21" rx="1.700" ry="3" fill="#f9573a"/><path d="M17 17c0-4 3-6.500 7.300-6.500s7.100 2.500 7.100 6.500v6.500c0 3.500-3 7.500-7.100 7.500S17 27 17 23.500z" fill="#f2834b"/><path d="M17 18c.5-4.500 3.500-7 8-7l1.500.5c-4 1.500-7 4-9.500 7.500z" fill="#e8702a"/><path d="M12.300 34c-1-9-.5-17 2-22 2-4 6-6.500 10.500-6 5.500.5 9.500 4 10.500 9.500.5 3 .3 6 0 8-.5-4-1.500-6.500-3.200-8-2.500-1-4.500-2.500-6.500-4.500-3 .5-6 2.500-8 5.500-1 4-.5 8 .5 12 .8 3 .8 6 0 9.500-2 1.500-4.500 1.500-6.500.5 1-1.500 1-3 .7-4.500zM31 30c1-2 1.800-4.500 2-7l1.500-1c.3 6-.3 12-1.500 17-1-.5-2-1.500-2.500-2.500.5-2.500.8-4.500.5-6.500z" fill="#f3e6c3"/><circle cx="19.8" cy="22.5" r="2" fill="#f9573a"/><circle cx="28.2" cy="22.3" r="2" fill="#f9573a"/><circle cx="19.500" cy="18.800" r=".7" fill="#3a2520"/><circle cx="28.400" cy="18.600" r=".7" fill="#3a2520"/><path d="M22.300 25.500h4" stroke="#f0604a" stroke-width=".9" stroke-linecap="round"/></svg></div>
<div class="t un">Lana E.</div>
<div class="t ut">2 weeks ago</div>
<div class="btn">Manage</div>
</div>
<div class="row" style="top:680px">
<svg class="chk" style="top:44px" viewBox="0 0 30 30"><circle cx="15" cy="15" r="13.500" fill="#fff" stroke="#94a3b8" stroke-width="2.750"/></svg>
<div class="ibox" style="background:#f5e6fe"><svg width="69" height="69" viewBox="0 0 69 69"><rect x="17" y="17" width="29" height="35" rx="3.2" fill="#bf63fb"/><g stroke="#f5e6fe" stroke-width="5" stroke-linejoin="round"><path d="M41.400 22.700h7.900a2.500 2.500 0 0 1 2.500 2.500v5.300a2.500 2.500 0 0 1-2.500 2.500h-7.900a2.500 2.500 0 0 1-2.500-2.500v-5.300a2.500 2.500 0 0 1 2.500-2.500z" fill="#f5e6fe"/><path d="M43 23v-2.300a2.300 2.300 0 0 1 4.600 0V23" fill="none" stroke-width="7.400"/></g><path d="M41.400 22.700h7.900a2.500 2.500 0 0 1 2.500 2.500v5.300a2.500 2.500 0 0 1-2.500 2.500h-7.900a2.500 2.500 0 0 1-2.500-2.500v-5.300a2.500 2.500 0 0 1 2.500-2.500z" fill="#d9a4fc"/><path d="M43 23v-2.300a2.300 2.300 0 0 1 4.600 0V23" fill="none" stroke="#d9a4fc" stroke-width="2.400"/><text x="21.6" y="48.6" font-family="Liberation Sans, sans-serif" font-weight="bold" font-size="11.5" textLength="20" lengthAdjust="spacingAndGlyphs" fill="#fff">DOC</text></svg></div>
<div class="t nm">UX Ramp Up for Interns</div>
<div class="t sz" style="left:752px">1.8MB</div>
<div class="t sz" style="left:903px;letter-spacing:-.8px">1.2.0</div>
<div class="av"><svg width="100%" height="100%" viewBox="0 0 48 48"><rect width="48" height="48" fill="#e5a535"/><path d="M6.700 42c2-2 4-5 5-8 1.500-2 3-3.500 4.500-4l8 10 4-5 3.500-1.500c1.500.5 3 1.500 3.800 2.500-1 1-1.800 2-2 3 1 2 1.800 4 2 6L33 48H11z" fill="#173f66"/><path d="M16 31l5 .5 5.500 9.500L31.500 35l-1.300 8.500-6 4.500-4.500-2-6-7z" fill="#a9c4b5"/><path d="M16.500 30.500l10 1.500 5 1-6.500 13.500c-3-4.500-6-10-8.500-16z" fill="#e8702a"/><ellipse cx="14.300" cy="24.200" rx="2.400" ry="4.400" fill="#f9573a"/><ellipse cx="34.300" cy="25.500" rx="2" ry="3.200" fill="#f9573a"/><path d="M17.600 17c.5-4 4-6.500 8.500-6.500s8.500 3 8.500 7.500l-.5 6c-.5 4-4 8-8 8s-8-3.500-8.500-8z" fill="#f2834b"/><path d="M13 16.500c0-2 1.500-3 2.500-3.500 0-2 1.500-3.500 3.500-3.500.5-2 2.500-3 4.500-2.500 1.500-1.500 4-1.500 5.500 0 2-.3 3.500.5 4.500 2 2 0 3.500 1.500 3.500 3.500 1.500 1 2 3 1 4.500.5 1.500 0 3-1.500 4.500l-2-.5c.3-4-.5-7-2.500-9-3-2-7-2-10-.5-2.500 2-3.500 5.500-3.500 9.500l-1.500 1c-1.500-2-1.500-4-.5-5.500z" fill="#c9682f"/><path d="M16.300 23.500c2 3 4.500 5.500 7.500 6.500 1.500-.8 3.500-1 5.500-.3 1-.8 2-2.200 2.300-3.700l-.5 5.500c-1 3-3.500 5.500-6.500 5.500-4-.5-7-4-7.800-8z" fill="#b5663f"/><path d="M20 19.800c1.500-.8 3.200-.7 4.500.2M28.800 21.200c1.200-.7 2.800-.5 3.700.3" stroke="#2b2020" stroke-width="1" fill="none" stroke-linecap="round"/><circle cx="21.300" cy="21.600" r=".8" fill="#2b2020"/></svg></div>
<div class="t un">Howard L.</div>
<div class="t ut">3 days ago</div>
<div class="btn">Manage</div>
</div>
<div class="row" style="top:798px">
<svg class="chk" style="top:44px" viewBox="0 0 30 30"><circle cx="15" cy="15" r="13.500" fill="#fff" stroke="#94a3b8" stroke-width="2.750"/></svg>
<div class="ibox" style="background:#ffe4e1"><svg width="69" height="69" viewBox="0 0 69 69"><rect x="17" y="17.3" width="29" height="35" rx="3.2" fill="#ff5638"/><path d="M37 30a4.300 4.300 0 0 1-.6-8.560 6.300 6.300 0 0 1 11.900-1.300A4.800 4.800 0 0 1 47.300 30z" fill="#ff8d7b" stroke="#ffe4e1" stroke-width="5" paint-order="stroke" stroke-linejoin="round"/><text x="21.2" y="48.6" font-family="Liberation Sans, sans-serif" font-weight="bold" font-size="11.5" textLength="20.6" lengthAdjust="spacingAndGlyphs" fill="#fff">PDF</text></svg></div>
<div class="t nm">2020 Projects Digest</div>
<div class="t sz" style="left:752px">8.9MB</div>
<div class="t sz" style="left:903px;letter-spacing:-.8px">1.3.4</div>
<div class="av"><svg width="100%" height="100%" viewBox="0 0 48 48"><rect width="48" height="48" fill="#e8212f"/><path d="M8.800 44c3-3.500 7-6 12-7.200h7c5 1 9.500 3.500 15.200 8.200L40 48H10z" fill="#d4a72c"/><path d="M17 33h14v5.500c-3 3-11 3-14 0z" fill="#e8611f"/><ellipse cx="14" cy="21.500" rx="1.500" ry="2.800" fill="#e8702a"/><ellipse cx="33.800" cy="21.500" rx="1.500" ry="2.800" fill="#e8702a"/><path d="M14.900 14c0-4.500 4-7 9-7s9 2.500 9 7v11c0 5-4 9-9 9s-9-4-9-9z" fill="#ef7d42"/><path d="M14 19c-1-8 3-14 10-14.200 7 .2 11 6.200 10 14.200l-1.300 1c-.2-5-1.200-8-3.200-9.500-3.500-1-7.500-1-11 0-2 1.500-3 4.500-3.200 9.500z" fill="#2b2626"/><path d="M15 23c1.500 1.500 3.500 2 5.500 1.800 1-.8 2.200-1.200 3.400-1.200s2.400.4 3.400 1.200c2 .2 4-.3 5.500-1.800v3c-.5 5-4.500 9-8.900 9S15.500 31 15 26z" fill="#b5522b"/><path d="M20.800 27c2 .8 4.200.8 6.200 0-.5 3-5.700 3-6.200 0z" fill="#fff"/><g fill="none" stroke="#2b2626" stroke-width="1"><rect x="16.200" y="18.300" width="6.600" height="5" rx="2.200"/><rect x="25" y="18.300" width="6.600" height="5" rx="2.200"/><path d="M22.800 20.300h2.200"/></g></svg></div>
<div class="t un">Mike T.</div>
<div class="t ut">3 weeks ago</div>
<div class="btn">Manage</div>
</div>
<div class="row" style="top:916px">
<svg class="chk" style="top:44px" viewBox="0 0 30 30"><circle cx="15" cy="15" r="13.500" fill="#fff" stroke="#94a3b8" stroke-width="2.750"/></svg>
<div class="ibox" style="background:#f5e6fe"><svg width="69" height="69" viewBox="0 0 69 69"><rect x="17" y="17" width="29" height="35" rx="3.2" fill="#bf63fb"/><g stroke="#f5e6fe" stroke-width="5" stroke-linejoin="round"><path d="M41.400 22.700h7.900a2.500 2.500 0 0 1 2.500 2.500v5.300a2.500 2.500 0 0 1-2.500 2.500h-7.900a2.500 2.500 0 0 1-2.500-2.500v-5.300a2.500 2.500 0 0 1 2.500-2.500z" fill="#f5e6fe"/><path d="M43 23v-2.300a2.300 2.300 0 0 1 4.600 0V23" fill="none" stroke-width="7.400"/></g><path d="M41.400 22.700h7.900a2.500 2.500 0 0 1 2.500 2.500v5.300a2.500 2.500 0 0 1-2.500 2.500h-7.900a2.500 2.500 0 0 1-2.500-2.500v-5.300a2.500 2.500 0 0 1 2.500-2.500z" fill="#d9a4fc"/><path d="M43 23v-2.300a2.300 2.300 0 0 1 4.600 0V23" fill="none" stroke="#d9a4fc" stroke-width="2.400"/><text x="21.6" y="48.6" font-family="Liberation Sans, sans-serif" font-weight="bold" font-size="11.5" textLength="20" lengthAdjust="spacingAndGlyphs" fill="#fff">DOC</text></svg></div>
<div class="t nm">Financial Report - 2022</div>
<div class="t sz" style="left:752px">1.2MB</div>
<div class="t sz" style="left:903px;letter-spacing:-.8px">1.0.4</div>
<div class="av"><svg width="100%" height="100%" viewBox="0 0 48 48"><rect width="48" height="48" fill="#57a0ad"/><path d="M12 48c1-5 3.500-9 7-11l9-1c3 1.500 5 5 6 12z" fill="#d9b3cc"/><path d="M16.500 30h12.500v8c-2 3-4 6-5 10h-3c-1-4-2.500-7.500-4.500-10z" fill="#e8702a"/><ellipse cx="33" cy="23.500" rx="1.600" ry="3" fill="#e8702a"/><path d="M14.500 18c.5-4 4-6.500 8.500-6.500s9 2.500 9.200 7.500l-.5 9c-.5 5-3 10-7.500 10.500-4.500 0-8-4.500-9-9.500z" fill="#f2834b"/><path d="M13.600 22c-1-4-.8-8 1-11 1-3 3.500-4.500 6-4.500 1.500-1 3.500-1.300 5.500-1 3.500-.5 7 1.500 8 4.500 1.500 3 1.500 6 .5 9-.3 1.500-1 3-1.800 4-.3-3.500-1-6-2.800-8-3 .5-6-.5-8.500-2.500-2.500.5-4.500 2-5.500 4.500-.8 1.500-1.500 3-2.400 5z" fill="#17355e"/><path d="M17 19.800l4 .4M25.500 20.200l4-.6" stroke="#3a2a2a" stroke-width=".9" stroke-linecap="round"/><path d="M17.500 22.500c1-.5 2.500-.5 3.500 0M26 22.500c1-.5 2.500-.5 3.500 0" stroke="#6a4030" stroke-width=".7" fill="none"/></svg></div>
<div class="t un">John Baxter.</div>
<div class="t ut">5 days ago</div>
<div class="btn">Manage</div>
</div>
</div>
</body></html>
